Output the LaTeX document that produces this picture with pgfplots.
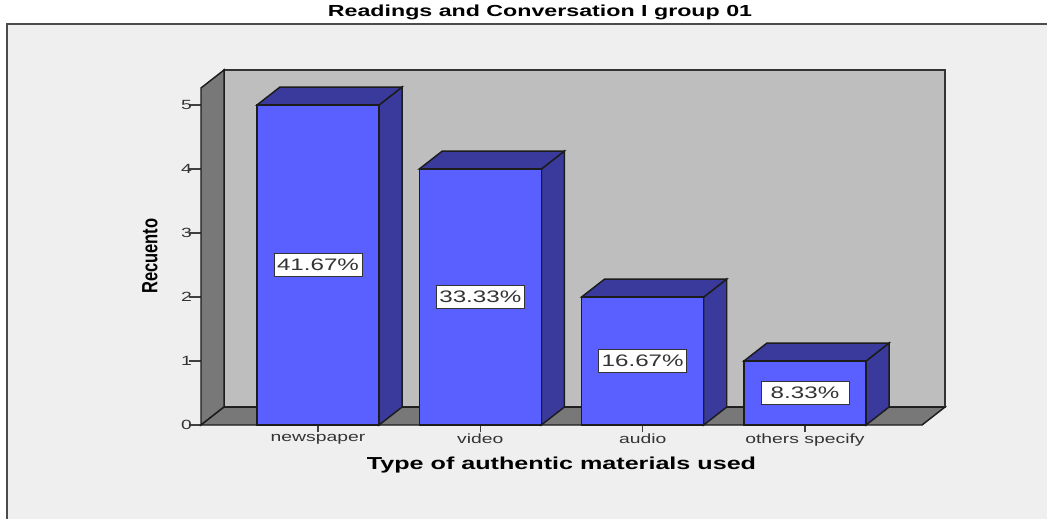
\documentclass[border=0pt]{standalone}
\usepackage{fontspec}
\setmainfont[FakeStretch=1.45]{Liberation Sans}
\newfontfamily\narrowbold[FakeStretch=0.75]{Liberation Sans}
\usepackage{pgfplots}
\pgfplotsset{compat=1.18}
\definecolor{panelbg}{HTML}{EFEFEF}
\definecolor{wallback}{HTML}{BEBEBE}
\definecolor{wallside}{HTML}{787878}
\definecolor{barfront}{HTML}{5A60FF}
\definecolor{barshade}{HTML}{393A9C}
\definecolor{edge}{HTML}{1C1C1C}
\definecolor{ticktext}{HTML}{333333}
\begin{document}
\begin{tikzpicture}[x=0.75pt,y=0.75pt]
% page and chart panel, measured in picture units from the lower left
\useasboundingbox (0,0) rectangle (1047,519);
\fill[white] (0,0) rectangle (1047,519);
\fill[panelbg] (7,0) rectangle (1047,495);
\draw[black!70,line width=0.9pt] (7,0) -- (7,495) -- (1047,495);
\node[font=\bfseries\fontsize{12}{14}\selectfont,text=black] at (540,507) {Readings and Conversation I group 01};
\begin{axis}[
  at={(150.75pt,70.5pt)}, anchor=south west,
  scale only axis, width=540.75pt, height=240pt,
  xmin=-0.7207, xmax=3.7207, ymin=0, ymax=5,
  clip=false,
  axis x line*=bottom, axis y line*=left,
  axis line style={draw=none},
  tick align=outside,
  xtick={0,1,2,3},
  xticklabels={newspaper,video,audio,others specify},
  ytick={0,1,2,3,4,5},
  yticklabels={0,1,2,3,4,5},
  xtick style={draw=black!75,line width=0.9pt,/pgfplots/major tick length=5.5pt},
  ytick style={draw=black!75,line width=0.9pt,/pgfplots/major tick length=9pt},
  xticklabel style={font=\fontsize{10}{12}\selectfont,text=ticktext,yshift=1pt},
  yticklabel style={font=\fontsize{10}{12}\selectfont,text=ticktext,xshift=1pt},
  xlabel={Type of authentic materials used},
  xlabel style={at={(axis cs:1.5,-0.625)},anchor=center,font=\bfseries\fontsize{13}{15}\selectfont,text=black},
  ylabel={Recuento},
  ylabel style={at={(axis cs:-1.035,2.64)},anchor=center,font=\narrowbold\bfseries\fontsize{16.5}{18}\selectfont,text=black},
]
% chart box: back wall, left wall, floor
\addplot[fill=wallback,draw=black!80,line width=1.1pt] coordinates {(-0.5787,0.281)(-0.5787,5.547)(3.8625,5.547)(3.8625,0.281)} -- cycle;
\addplot[fill=wallside,draw=edge,line width=1.1pt] coordinates {(-0.7207,0)(-0.5787,0.281)(-0.5787,5.547)(-0.7207,5.266)} -- cycle;
\addplot[fill=wallside,draw=edge,line width=1.1pt] coordinates {(-0.7207,0)(-0.5787,0.281)(3.8625,0.281)(3.7207,0)} -- cycle;
% side and top faces of the bars
\addplot[fill=barshade,draw=edge,line width=1.1pt] coordinates {(0.376,0)(0.518,0.281)(0.518,5.281)(0.376,5)} -- cycle;
\addplot[fill=barshade,draw=edge,line width=1.1pt] coordinates {(-0.376,5)(-0.234,5.281)(0.518,5.281)(0.376,5)} -- cycle;
\addplot[fill=barshade,draw=edge,line width=1.1pt] coordinates {(1.376,0)(1.518,0.281)(1.518,4.281)(1.376,4)} -- cycle;
\addplot[fill=barshade,draw=edge,line width=1.1pt] coordinates {(0.624,4)(0.766,4.281)(1.518,4.281)(1.376,4)} -- cycle;
\addplot[fill=barshade,draw=edge,line width=1.1pt] coordinates {(2.376,0)(2.518,0.281)(2.518,2.281)(2.376,2)} -- cycle;
\addplot[fill=barshade,draw=edge,line width=1.1pt] coordinates {(1.624,2)(1.766,2.281)(2.518,2.281)(2.376,2)} -- cycle;
\addplot[fill=barshade,draw=edge,line width=1.1pt] coordinates {(3.376,0)(3.518,0.281)(3.518,1.281)(3.376,1)} -- cycle;
\addplot[fill=barshade,draw=edge,line width=1.1pt] coordinates {(2.624,1)(2.766,1.281)(3.518,1.281)(3.376,1)} -- cycle;
% front faces
\addplot[ybar,bar shift=0pt,bar width=91.5pt,fill=barfront,draw=edge,line width=1.1pt]
  coordinates {(0,5)(1,4)(2,2)(3,1)};
% share of each category, centred on its bar
\addplot[draw=none,mark=none,point meta=explicit symbolic,
  nodes near coords,
  nodes near coords style={anchor=center,fill=white,draw=black!80,line width=0.7pt,
    text=ticktext,font=\fontsize{12.5}{14}\selectfont,inner sep=0pt,
    minimum width=66pt,minimum height=17.5pt}]
  coordinates {(0,2.5)[41.67\%] (1,2)[33.33\%] (2,1)[16.67\%] (3,0.5)[8.33\%]};
\end{axis}
\end{tikzpicture}
\end{document}
